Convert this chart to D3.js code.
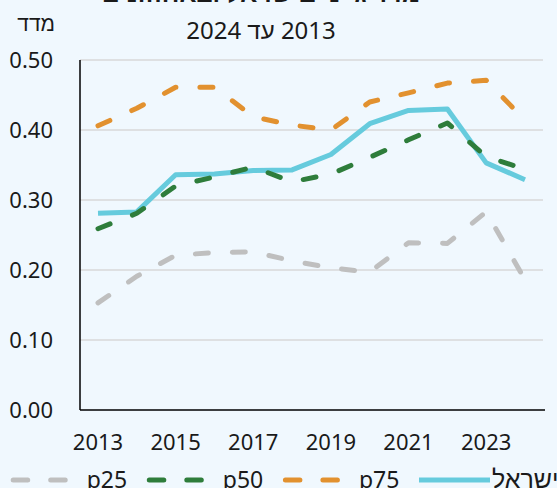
<!DOCTYPE html>
<html>
<head>
<meta charset="utf-8">
<script src="https://cdn.jsdelivr.net/npm/d3@7"></script>
<style>
  html, body { margin: 0; padding: 0; background: #F0F8FE; }
  svg { display: block; font-family: "Noto Sans", "Liberation Sans", "DejaVu Sans", sans-serif; }
</style>
</head>
<body>
<svg id="chart" width="557" height="488"></svg>
<script>
// data
const years = [2013, 2014, 2015, 2016, 2017, 2018, 2019, 2020, 2021, 2022, 2023, 2024];
const israel = [0.281, 0.283, 0.336, 0.337, 0.342, 0.343, 0.365, 0.409, 0.428, 0.430, 0.353, 0.329];
const p75 = [0.406, 0.431, 0.461, 0.461, 0.419, 0.407, 0.400, 0.440, 0.453, 0.467, 0.471, 0.414];
const p50 = [0.259, 0.281, 0.320, 0.333, 0.347, 0.326, 0.337, 0.361, 0.386, 0.410, 0.362, 0.344];
const p25 = [0.153, 0.191, 0.221, 0.225, 0.226, 0.213, 0.203, 0.197, 0.239, 0.238, 0.283, 0.186];
const yTicks = [0, 0.1, 0.2, 0.3, 0.4, 0.5];
const xTicks = [2013, 2015, 2017, 2019, 2021, 2023];

// series in draw order (first one ends up at the bottom)
const series = [
  { name: "ישראל", values: israel, color: "#66CBDD", dash: null },
  { name: "p75", values: p75, color: "#E2912F", dash: "13 24" },
  { name: "p50", values: p50, color: "#2E7D3B", dash: "13 24" },
  { name: "p25", values: p25, color: "#BFBFBF", dash: "13 24" }
];

const svg = d3.select("#chart");
const plot = { left: 80, right: 543, top: 60, bottom: 410 };

const x = d3.scaleLinear().domain([2013, 2024]).range([98, 525]);
const y = d3.scaleLinear().domain([0, 0.5]).range([plot.bottom, plot.top]);

// background
svg.append("rect").attr("width", 557).attr("height", 488).attr("fill", "#F0F8FE");

// gridlines
svg.append("g")
  .selectAll("line")
  .data(yTicks.filter(d => d > 0))
  .join("line")
  .attr("x1", plot.left)
  .attr("x2", plot.right)
  .attr("y1", d => y(d))
  .attr("y2", d => y(d))
  .attr("stroke", "#D9D9D9")
  .attr("stroke-width", 1.5);

// axis lines
svg.append("line")
  .attr("x1", plot.left).attr("x2", plot.left)
  .attr("y1", plot.top).attr("y2", plot.bottom)
  .attr("stroke", "#000").attr("stroke-width", 1.5);
svg.append("line")
  .attr("x1", plot.left).attr("x2", 545)
  .attr("y1", plot.bottom).attr("y2", plot.bottom)
  .attr("stroke", "#000").attr("stroke-width", 1.5);

// y tick labels
svg.append("g")
  .selectAll("text")
  .data(yTicks)
  .join("text")
  .attr("x", 53)
  .attr("y", d => y(d) + 8)
  .attr("text-anchor", "end")
  .attr("font-size", 22)
  .attr("fill", "#1a1a1a")
  .text(d => d3.format(".2f")(d));

// x tick labels
svg.append("g")
  .selectAll("text")
  .data(xTicks)
  .join("text")
  .attr("x", d => x(d))
  .attr("y", 450)
  .attr("text-anchor", "middle")
  .attr("font-size", 22)
  .attr("fill", "#1a1a1a")
  .text(d => d);

// titles (first line is cut by the top edge, like the original)
svg.append("text")
  .attr("x", 261).attr("y", 2)
  .attr("text-anchor", "middle")
  .attr("font-size", 25)
  .attr("font-weight", "bold")
  .style("direction", "rtl")
  .attr("fill", "#1a1a1a")
  .text("מדד ג'יני בישראל ובאחוזונים");

svg.append("text")
  .attr("x", 261).attr("y", 39)
  .attr("text-anchor", "middle")
  .attr("font-size", 24)
  .style("direction", "rtl")
  .attr("fill", "#1a1a1a")
  .text("2013 עד 2024");

svg.append("text")
  .attr("x", 55).attr("y", 31)
  .attr("text-anchor", "end")
  .attr("font-family", "Liberation Sans")
  .attr("font-size", 21)
  .attr("fill", "#1a1a1a")
  .text("מדד");

// lines
const line = d3.line()
  .x((d, i) => x(years[i]))
  .y(d => y(d));

series.forEach(s => {
  svg.append("path")
    .datum(s.values)
    .attr("d", line)
    .attr("fill", "none")
    .attr("stroke", s.color)
    .attr("stroke-width", 5)
    .attr("stroke-linecap", s.dash ? "round" : "butt")
    .attr("stroke-linejoin", "round")
    .attr("stroke-dasharray", s.dash);
});

// legend (left to right: p25, p50, p75, ישראל)
const legendItems = series.slice().reverse();
const legend = svg.append("g").attr("transform", "translate(0,480)");
legendItems.forEach((s, i) => {
  const x0 = 10.7 + i * 136.1;
  const solid = !s.dash;
  legend.append("line")
    .attr("x1", solid ? x0 : x0 + 2.5)
    .attr("x2", solid ? x0 + 71 : x0 + 54.5)
    .attr("y1", 0).attr("y2", 0)
    .attr("stroke", s.color)
    .attr("stroke-width", 5)
    .attr("stroke-linecap", solid ? "butt" : "round")
    .attr("stroke-dasharray", s.dash ? "14.5 23" : null);
  legend.append("text")
    .attr("x", solid ? x0 + 73 : x0 + 76)
    .attr("y", 8)
    .attr("font-size", solid ? 25 : 23)
    .attr("fill", "#1a1a1a")
    .style("direction", "ltr")
    .text(s.name);
});
</script>
</body>
</html>
